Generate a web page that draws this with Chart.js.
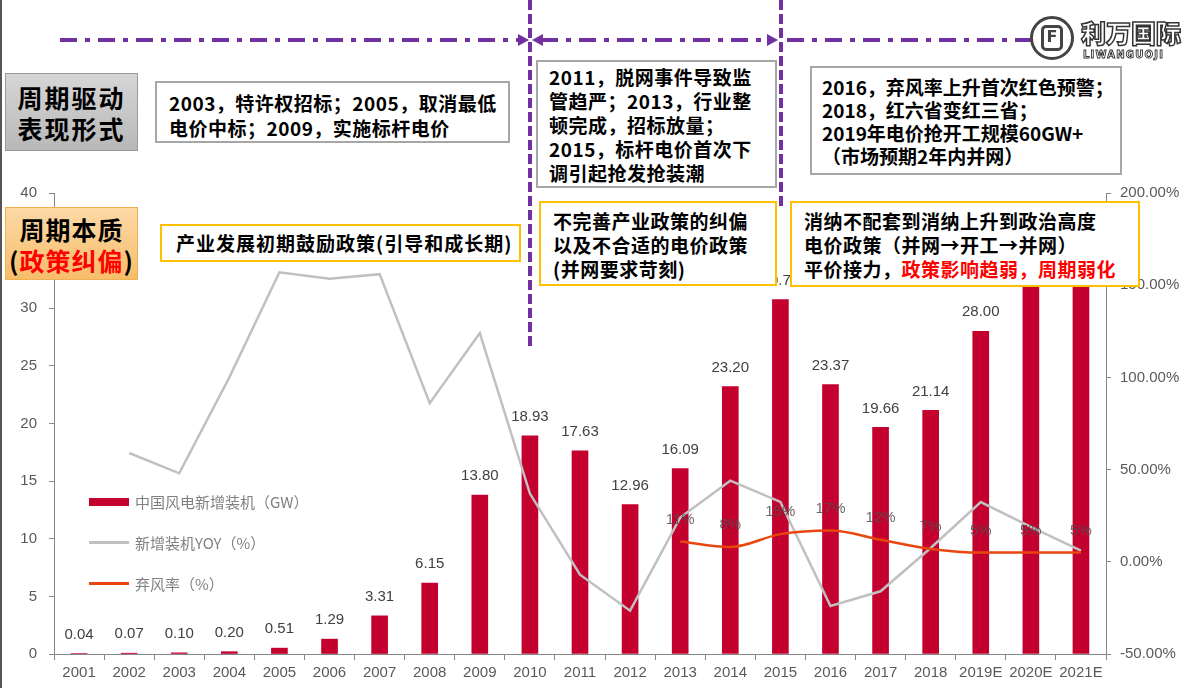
<!DOCTYPE html>
<html><head><meta charset="utf-8">
<script src="https://cdn.jsdelivr.net/npm/chart.js@4.4.0/dist/chart.umd.min.js"></script>
<style>
html,body{margin:0;padding:0;background:#fff;}
#wrap{position:relative;width:1200px;height:700px;overflow:hidden;background:#fff;}
#c{position:absolute;left:0;top:0;}
.box{position:absolute;box-sizing:border-box;background:#fff;font-family:"Noto Sans CJK SC",sans-serif;font-weight:700;color:#000;font-size:19px;letter-spacing:0.5px;white-space:nowrap;}
.red{color:#ff0000;}
#legend{position:absolute;left:89px;top:481px;font-family:"Noto Sans CJK SC",sans-serif;font-size:15px;color:#808080;white-space:nowrap;}
#legend .item{display:flex;align-items:center;height:41px;}
#legend .sw{width:40px;margin-right:6px;}
#leftline{position:absolute;left:0;top:0;width:2px;height:688px;background:#555;}
#logo{position:absolute;left:1028px;top:14px;width:170px;height:54px;white-space:nowrap;}
#logo .ring{position:absolute;left:2px;top:2px;width:44px;height:44px;border:3px solid #444;border-radius:50%;box-sizing:border-box;}
#logo .inner{position:absolute;left:13px;top:11px;width:22px;height:26px;border:3px solid #444;border-radius:5px;box-sizing:border-box;font:bold 16px "DejaVu Sans";color:#444;line-height:18px;text-align:center;}
#logo .cn{position:absolute;left:53px;top:4px;font:900 25px "Noto Sans CJK SC";color:#fff;-webkit-text-stroke:1.5px #333;letter-spacing:0px;line-height:28px;}
#logo .en{position:absolute;left:55px;top:35px;font:bold 10px "DejaVu Sans";color:#fff;-webkit-text-stroke:0.9px #333;letter-spacing:1.2px;}
</style></head>
<body>
<div id="wrap">
<canvas id="c" width="1200" height="700"></canvas>
<div id="leftline"></div>
<svg id="ov" width="1200" height="700" style="position:absolute;left:0;top:0;pointer-events:none">
  <g stroke="#7030a0" stroke-width="4" fill="none">
    <line x1="60" y1="40" x2="520" y2="40" stroke-dasharray="17 8 5 8"/>
    <line x1="541" y1="40" x2="768" y2="40" stroke-dasharray="17 8 5 8"/>
    <line x1="787" y1="40" x2="1035" y2="40" stroke-dasharray="17 8 5 8"/>
    <line x1="530" y1="0" x2="530" y2="346" stroke-dasharray="10 4"/>
    <line x1="781" y1="0" x2="781" y2="209" stroke-dasharray="10 4"/>
  </g>
  <g fill="#7030a0">
    <polygon points="518,34 529,40 518,46"/>
    <polygon points="543,34 532,40 543,46"/>
    <polygon points="767,34 778,40 767,46"/>
  </g>
</svg>

<div class="box" style="left:5px;top:73px;width:133px;height:78px;background:linear-gradient(#d6d6d6,#b8b8b8);border:1px solid #9a9a9a;font-size:25px;line-height:31px;text-align:center;padding-top:8px;letter-spacing:2px;">周期驱动<br>表现形式</div>
<div class="box" style="left:155px;top:81px;width:355px;height:62px;border:2px solid #a6a6a6;line-height:25px;padding:7px 0 0 12px;">2003，特许权招标；2005，取消最低<br>电价中标；2009，实施标杆电价</div>
<div class="box" style="left:536px;top:60px;width:241px;height:128px;border:2px solid #a6a6a6;line-height:24px;padding:3px 0 0 11px;">2011，脱网事件导致监<br>管趋严；2013，行业整<br>顿完成，招标放量；<br>2015，标杆电价首次下<br>调引起抢发抢装潮</div>
<div class="box" style="left:810px;top:66px;width:312px;height:109px;border:2px solid #a6a6a6;line-height:23px;padding:7px 0 0 10px;letter-spacing:0;">2016，弃风率上升首次红色预警；<br>2018，红六省变红三省；<br>2019年电价抢开工规模60GW+<br>（市场预期2年内并网）</div>

<div class="box" style="left:5px;top:207px;width:133px;height:73px;background:linear-gradient(#fcd9a6,#f7bd6a);border:1px solid #f0b050;font-size:25px;line-height:31px;text-align:center;padding-top:6px;letter-spacing:1px;">周期本质<br>(<span class="red">政策纠偏</span>)</div>
<div class="box" style="left:160px;top:224px;width:361px;height:38px;border:2px solid #ffc000;line-height:34px;padding-left:14px;letter-spacing:1px;">产业发展初期鼓励政策(引导和成长期)</div>
<div class="box" style="left:539px;top:201px;width:238px;height:85px;border:2px solid #ffc000;line-height:24px;padding:6px 0 0 12px;">不完善产业政策的纠偏<br>以及不合适的电价政策<br>(并网要求苛刻)</div>
<div class="box" style="left:790px;top:201px;width:350px;height:86px;border:2px solid #ffc000;line-height:24px;padding:6px 0 0 12px;">消纳不配套到消纳上升到政治高度<br>电价政策（并网→开工→并网）<br>平价接力，<span class="red">政策影响趋弱，周期弱化</span></div>

<div id="logo"><div class="ring"></div><div class="inner">F</div><div class="cn">利万国际</div><div class="en">LIWANGUOJI</div></div>
<div id="legend"></div>
</div>
<script>
const years = ['2001','2002','2003','2004','2005','2006','2007','2008','2009','2010','2011','2012','2013','2014','2015','2016','2017','2018','2019E','2020E','2021E'];
const installedGW = [0.04,0.07,0.10,0.20,0.51,1.29,3.31,6.15,13.80,18.93,17.63,12.96,16.09,23.20,30.75,23.37,19.66,21.14,28.00,33.5,35.5];
const yoyPct = [null,59,48,100,157,153.5,156,86,124,37,-7,-26.5,24,44,32.5,-24,-16,7.5,32.4,19,6];
const curtailPct = [null,null,null,null,null,null,null,null,null,null,null,null,11,8,15,17,12,7,5,5,5];
const seriesNames = ['中国风电新增装机（GW）','新增装机YOY（%）','弃风率（%）'];
const leftTicks = [0,5,10,15,20,25,30,35,40];
const rightTicks = [-50,0,50,100,150,200];

const tickFont = {family:'"Liberation Sans", Arial, sans-serif', size:15};
const axisGray = '#868686';

const valueLabels = {
  id:'valueLabels',
  afterDatasetsDraw(chart){
    const ctx = chart.ctx;
    ctx.save();
    ctx.font = '15px "Liberation Sans", Arial, sans-serif';
    ctx.textAlign = 'center';
    ctx.textBaseline = 'middle';
    ctx.fillStyle = '#404040';
    chart.getDatasetMeta(0).data.forEach((el,i)=>{
      ctx.fillText(installedGW[i].toFixed(2), el.x, el.y - 19);
    });
    ctx.fillStyle = 'rgba(80,80,80,0.85)';
    chart.getDatasetMeta(2).data.forEach((el,i)=>{
      if (curtailPct[i] == null) return;
      ctx.fillText(curtailPct[i] + '%', el.x, el.y - 22);
    });
    ctx.restore();
  }
};

const chart = new Chart(document.getElementById('c'), {
  type:'bar',
  data:{
    labels: years,
    datasets:[
      {type:'bar', label:seriesNames[0], data:installedGW, yAxisID:'y', backgroundColor:'#c4002f', barThickness:16, order:3},
      {type:'line', label:seriesNames[1], data:yoyPct, yAxisID:'y1', borderColor:'#c0c0c0', backgroundColor:'#c0c0c0', borderWidth:2.5, pointRadius:0, tension:0, spanGaps:false, order:2},
      {type:'line', label:seriesNames[2], data:curtailPct, yAxisID:'y1', borderColor:'#e8460e', backgroundColor:'#e8460e', borderWidth:2.5, pointRadius:0, cubicInterpolationMode:'monotone', order:1}
    ]
  },
  options:{
    responsive:false,
    animation:false,
    devicePixelRatio:1,
    layout:{padding:{top:193,left:0,right:0,bottom:0}},
    plugins:{legend:{display:false}, tooltip:{enabled:false}},
    scales:{
      x:{
        grid:{display:true, drawOnChartArea:false, drawTicks:true, tickLength:6, color:axisGray, offset:true},
        border:{color:axisGray, width:1},
        ticks:{font:tickFont, color:'#595959', padding:4, maxRotation:0, autoSkip:false},
        afterFit(s){ s.height = 46; }
      },
      y:{
        position:'left', min:0, max:40,
        afterBuildTicks(s){ s.ticks = leftTicks.map(v=>({value:v})); },
        grid:{display:true, drawOnChartArea:false, drawTicks:true, tickLength:5, color:axisGray},
        border:{color:axisGray, width:1},
        ticks:{font:tickFont, color:'#595959', padding:12},
        afterFit(s){ s.width = 54; }
      },
      y1:{
        position:'right', min:-50, max:200,
        afterBuildTicks(s){ s.ticks = rightTicks.map(v=>({value:v})); },
        grid:{display:true, drawOnChartArea:false, drawTicks:true, tickLength:5, color:axisGray},
        border:{color:axisGray, width:1},
        ticks:{font:tickFont, color:'#595959', padding:9, callback:v=>v.toFixed(2)+'%'},
        afterFit(s){ s.width = 94; }
      }
    }
  },
  plugins:[valueLabels]
});

// legend built from the chart's datasets
const lg = document.getElementById('legend');
chart.data.datasets.forEach(ds=>{
  const it = document.createElement('div'); it.className='item';
  const sw = document.createElement('div'); sw.className='sw';
  if (ds.type === 'bar') { sw.style.height='8px'; sw.style.background=ds.backgroundColor; }
  else { sw.style.height='3px'; sw.style.background=ds.borderColor; }
  const tx = document.createElement('span'); tx.textContent = ds.label;
  it.appendChild(sw); it.appendChild(tx); lg.appendChild(it);
});
</script>
</body></html>
